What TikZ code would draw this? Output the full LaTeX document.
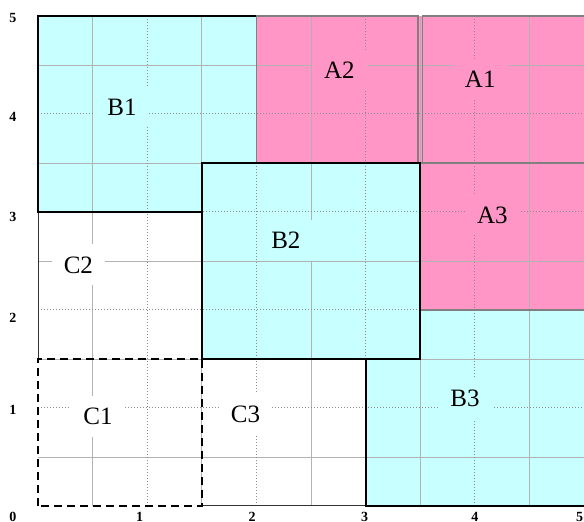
\documentclass[tikz,border=0pt]{standalone}
\usepackage{fontspec}
\setmainfont{Liberation Serif}
\usetikzlibrary{positioning}
\definecolor{regB}{HTML}{C8FFFF}
\definecolor{regA}{HTML}{FF96C6}
\tikzset{
  minorgrid/.style={draw=black!30, line width=0.4pt},
  majorgrid/.style={draw=black!45, line width=0.5pt, densely dotted},
  bedge/.style={draw=black, line width=1.1pt},
  aedge/.style={draw=black!50, line width=0.8pt},
  cedge/.style={draw=black, line width=1.1pt, dash pattern=on 4pt off 2.5pt},
  thinedge/.style={draw=black!80, line width=0.5pt},
  tag/.style={font=\fontsize{12.5}{14}\selectfont, inner sep=6pt},
  tick/.style={font=\fontsize{7}{8}\selectfont\bfseries, inner sep=0pt}
}
\begin{document}
\begin{tikzpicture}[x=54.6pt, y=49pt]
  \useasboundingbox (-0.348,-0.163) rectangle (5,5.163);
  % fills
  \fill[regB] (3,0) rectangle (5,2);
  \fill[regB] (0,3) rectangle (2,5);
  \fill[regA] (2,3.5) rectangle (5,5);
  \fill[regA] (3.5,2) rectangle (5,3.5);
  \fill[regB] (1.5,1.5) rectangle (3.5,3.5);
  % grid
  \foreach \g in {0.5,1.5,2.5,3.5,4.5} {
    \draw[minorgrid] (\g,0) -- (\g,5);
    \draw[minorgrid] (0,\g) -- (5,\g);
  }
  \foreach \g in {1,2,3,4} {
    \draw[majorgrid] (\g,0) -- (\g,5);
    \draw[majorgrid] (0,\g) -- (5,\g);
  }
  % borders
  \draw[thinedge] (0,1.5) -- (0,3);
  \draw[thinedge] (1.5,0) -- (3,0);
  \draw[bedge] (3,1.5) -- (3,0) -- (5,0);
  \draw[bedge] (1.5,3) -- (0,3) -- (0,5) -- (2,5);
  \draw[aedge] (2,3.5) rectangle (3.48,5);
  \draw[aedge] (3.52,3.5) rectangle (5.1,5);
  \draw[aedge] (3.5,2) rectangle (5.1,3.5);
  \draw[bedge] (1.5,1.5) rectangle (3.5,3.5);
  \draw[cedge] (0,0) rectangle (1.5,1.5);
  % labels
  \node[tag, fill=regB] (b1) at (0.77,4.07) {B1};
  \node[tag, fill=regA] (a2) at (2.76,4.45) {A2};
  \node[tag, fill=regA] (a1) at (4.05,4.35) {A1};
  \node[tag, fill=regA] (a3) at (4.16,2.97) {A3};
  \node[tag, fill=regB] (b2) at (2.27,2.71) {B2};
  \node[tag, fill=white] (c2) at (0.37,2.46) {C2};
  \node[tag, fill=white] (c1) at (0.55,0.91) {C1};
  \node[tag, fill=white] (c3) at (1.9,0.93) {C3};
  \node[tag, fill=regB] (b3) at (3.91,1.1) {B3};
  % axis ticks
  \node[tick] (t0) at (-0.23,-0.11) {0};
  \foreach \v/\p in {1/0.93,2/1.96,3/2.99,4/4.0,5/4.96}
    \node[tick] (tx\v) at (\p,-0.11) {\v};
  \foreach \v/\p in {1/0.98,2/1.92,3/2.95,4/3.97,5/4.98}
    \node[tick] (ty\v) at (-0.23,\p) {\v};
\end{tikzpicture}
\end{document}
